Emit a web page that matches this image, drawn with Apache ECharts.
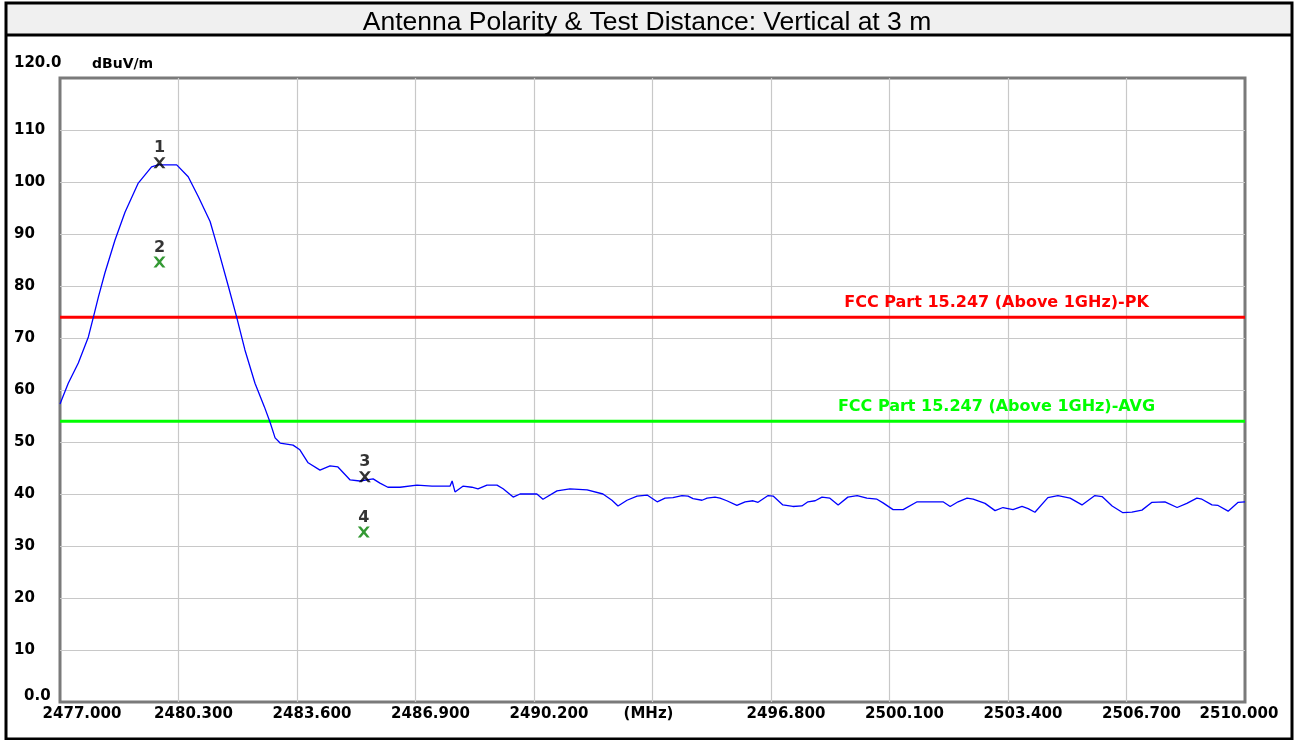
<!DOCTYPE html>
<html>
<head>
<meta charset="utf-8">
<script src="https://cdn.jsdelivr.net/npm/echarts@6/dist/echarts.min.js"></script>
<style>html,body{margin:0;padding:0;background:#fff;}#c{width:1294px;height:740px;}</style>
</head>
<body>
<div id="c"></div>
<script>
// ---- data ----
const chartTitle = 'Antenna Polarity & Test Distance: Vertical at 3 m';
const startFreq = 2477.0;   // MHz
const stopFreq = 2510.0;    // MHz
const xTickLabels = ['2477.000','2480.300','2483.600','2486.900','2490.200','(MHz)','2496.800','2500.100','2503.400','2506.700','2510.000'];
const yTickLabels = ['0.0','10','20','30','40','50','60','70','80','90','100','110','120.0'];
const yUnit = 'dBuV/m';

const traceFreq = [
 2477.00,2477.23,2477.51,2477.79,2477.93,2478.07,2478.25,2478.53,2478.81,2479.18,
 2479.55,2479.73,2480.25,2480.57,2480.85,2481.18,2481.41,2481.69,2481.92,2482.15,
 2482.43,2482.69,2482.85,2482.99,2483.13,2483.49,2483.68,2483.91,2484.24,2484.52,
 2484.74,2485.08,2485.35,2485.72,2485.91,2486.13,2486.47,2486.94,2487.36,2487.78,
 2487.86,2487.92,2488.00,2488.22,2488.47,2488.64,2488.89,2489.17,2489.34,2489.62,
 2489.81,2490.28,2490.45,2490.84,2491.20,2491.68,2492.12,2492.37,2492.54,2492.79,
 2493.07,2493.35,2493.63,2493.85,2494.07,2494.32,2494.49,2494.63,2494.88,2495.02,
 2495.24,2495.38,2495.57,2495.85,2496.08,2496.30,2496.44,2496.72,2496.86,2497.13,
 2497.41,2497.66,2497.83,2498.03,2498.22,2498.44,2498.67,2498.94,2499.20,2499.47,
 2499.75,2499.92,2500.20,2500.48,2500.87,2501.59,2501.79,2502.01,2502.26,2502.43,
 2502.76,2503.04,2503.26,2503.54,2503.79,2503.96,2504.15,2504.51,2504.79,2505.13,
 2505.46,2505.82,2506.02,2506.30,2506.60,2506.85,2507.13,2507.41,2507.77,2508.11,
 2508.38,2508.66,2508.80,2509.08,2509.25,2509.53,2509.81,2510.00
];
const traceLevel = [
 57.3,61.3,65.2,70.2,74.0,77.9,82.5,88.8,94.2,99.8,
 102.9,103.3,103.3,101.0,97.2,92.4,86.9,79.9,74.0,67.7,
 61.3,56.8,53.8,50.8,49.8,49.4,48.5,46.0,44.6,45.4,
 45.2,42.7,42.5,42.9,42.1,41.3,41.3,41.7,41.5,41.5,
 41.5,42.5,40.4,41.5,41.3,41.0,41.7,41.7,41.0,39.4,
 40.0,40.0,39.0,40.6,41.0,40.8,40.0,38.8,37.7,38.8,
 39.6,39.8,38.5,39.2,39.3,39.7,39.6,39.1,38.8,39.2,
 39.4,39.2,38.7,37.8,38.5,38.7,38.4,39.7,39.6,37.9,
 37.6,37.7,38.5,38.7,39.4,39.2,37.9,39.4,39.7,39.2,
 39.0,38.3,37.0,37.0,38.5,38.5,37.6,38.5,39.2,39.0,
 38.2,36.8,37.4,37.0,37.6,37.2,36.5,39.3,39.7,39.2,
 37.9,39.7,39.5,37.7,36.4,36.5,36.9,38.4,38.5,37.4,
 38.2,39.2,39.0,37.9,37.8,36.7,38.4,38.5
];

const pkLimit = 74.0;
const avgLimit = 54.0;
const pkLimitName = 'FCC Part 15.247 (Above 1GHz)-PK';
const avgLimitName = 'FCC Part 15.247 (Above 1GHz)-AVG';
const limitLabelFreq = 2503.08;

const peakMarkerFreq = [2479.77, 2485.49];
const peakMarkerLevel = [103.7, 43.3];
const peakMarkerLabel = ['1', '3'];
const avgMarkerFreq = [2479.77, 2485.46];
const avgMarkerLevel = [84.6, 32.7];
const avgMarkerLabel = ['2', '4'];

// ---- helpers: x axis runs in kHz offset from the start frequency ----
const toX = f => Math.round((f - startFreq) * 1000);
const spanX = toX(stopFreq);
const stepX = 3300;

const traceData = traceFreq.map((f, i) => [toX(f), traceLevel[i]]);
const mk = (fr, lv, lb) => fr.map((f, i) => ({ value: [toX(f), lv[i]], name: lb[i] }));

const BOLD = 'DejaVu Sans';
const xShape = 'path://M0,0L3,0L6,3.2L9,0L12,0L7.6,5L12,10L9,10L6,6.8L3,10L0,10L4.4,5Z';

const chart = echarts.init(document.getElementById('c'), null, { renderer: 'canvas' });
chart.setOption({
  animation: false,
  backgroundColor: '#ffffff',
  title: {
    text: chartTitle, left: 'center', top: 4,
    textStyle: { fontFamily: 'Liberation Sans', fontSize: 26.5, fontWeight: 'normal', color: '#000' }
  },
  graphic: [
    { type: 'rect', z: -10, shape: { x: 6, y: 3, width: 1286, height: 32 }, style: { fill: '#f0f0f0' } },
    { type: 'line', z: 10, shape: { x1: 6, y1: 35, x2: 1292, y2: 35 }, style: { stroke: '#000', lineWidth: 3 } },
    { type: 'rect', z: 10, shape: { x: 6, y: 3, width: 1286, height: 736 }, style: { fill: 'none', stroke: '#000', lineWidth: 3 } }
  ],
  grid: {
    left: 60, right: 49, top: 78, bottom: 38,
    show: true, borderColor: '#7a7a7a', borderWidth: 3
  },
  xAxis: {
    type: 'value', min: 0, max: spanX, interval: stepX,
    axisLine: { show: false }, axisTick: { show: false },
    splitLine: { show: true, showMinLine: false, showMaxLine: false, lineStyle: { color: '#c8c8c8', width: 1.2 } },
    axisLabel: {
      margin: 5,
      formatter: v => {
        const i = Math.round(v / stepX);
        const t = xTickLabels[i];
        if (i === 0) return '{f|' + t + '}';
        if (i === xTickLabels.length - 1) return '{l|' + t + '}';
        if (t === '(MHz)') return '{u|' + t + '}';
        return '{n|' + t + '}';
      },
      rich: {
        n: { fontFamily: BOLD, fontWeight: 'bold', fontSize: 15, color: '#000', padding: [0, 0, 0, 30] },
        f: { fontFamily: BOLD, fontWeight: 'bold', fontSize: 15, color: '#000', padding: [0, 0, 0, 44] },
        l: { fontFamily: BOLD, fontWeight: 'bold', fontSize: 15, color: '#000', padding: [0, 12, 0, 0] },
        u: { fontFamily: BOLD, fontWeight: 'bold', fontSize: 15, color: '#000', padding: [0, 8, 0, 0] }
      }
    }
  },
  yAxis: {
    type: 'value', min: 0, max: 120, interval: 10,
    name: yUnit, nameLocation: 'end', nameGap: 14,
    nameTextStyle: { fontFamily: BOLD, fontWeight: 'bold', fontSize: 14, color: '#000', align: 'left', verticalAlign: 'middle', padding: [0, 0, 0, 32] },
    axisLine: { show: false }, axisTick: { show: false },
    splitLine: { show: true, showMinLine: false, showMaxLine: false, lineStyle: { color: '#c8c8c8', width: 1.2 } },
    axisLabel: {
      align: 'left', margin: 46,
      formatter: v => {
        const i = Math.round(v / 10);
        const t = yTickLabels[i];
        if (i === yTickLabels.length - 1) return '{t|' + t + '}';
        if (i === 0) return '{b|' + t + '}';
        return '{n|' + t + '}';
      },
      rich: {
        n: { fontFamily: BOLD, fontWeight: 'bold', fontSize: 15, color: '#000' },
        t: { fontFamily: BOLD, fontWeight: 'bold', fontSize: 15, color: '#000', padding: [0, 0, 29, 0] },
        b: { fontFamily: BOLD, fontWeight: 'bold', fontSize: 15, color: '#000', padding: [0, 0, 12, 10] }
      }
    }
  },
  series: [
    {
      name: 'trace', type: 'line', data: traceData, showSymbol: false, symbol: 'none',
      lineStyle: { color: '#0000ff', width: 1.3 }, z: 3
    },
    {
      name: 'pk', type: 'line', data: [[0, pkLimit], [spanX, pkLimit]], showSymbol: false, symbol: 'none',
      lineStyle: { color: '#ff0000', width: 3 }, z: 2,
      markPoint: {
        symbol: 'circle', symbolSize: 0,
        data: [{ coord: [toX(limitLabelFreq), pkLimit] }],
        label: { show: true, position: 'top', distance: 6, formatter: pkLimitName,
          fontFamily: BOLD, fontWeight: 'bold', fontSize: 16, color: '#ff0000' }
      }
    },
    {
      name: 'avg', type: 'line', data: [[0, avgLimit], [spanX, avgLimit]], showSymbol: false, symbol: 'none',
      lineStyle: { color: '#00ff00', width: 3 }, z: 2,
      markPoint: {
        symbol: 'circle', symbolSize: 0,
        data: [{ coord: [toX(limitLabelFreq), avgLimit] }],
        label: { show: true, position: 'top', distance: 6, formatter: avgLimitName,
          fontFamily: BOLD, fontWeight: 'bold', fontSize: 16, color: '#00ff00' }
      }
    },
    {
      name: 'peakMarkers', type: 'scatter', data: mk(peakMarkerFreq, peakMarkerLevel, peakMarkerLabel),
      symbol: xShape, symbolSize: [12, 11], itemStyle: { color: '#000' }, z: 5,
      label: { show: true, position: 'top', distance: 1, formatter: p => p.name,
        fontFamily: BOLD, fontWeight: 'bold', fontSize: 16, color: '#000' }
    },
    {
      name: 'avgMarkers', type: 'scatter', data: mk(avgMarkerFreq, avgMarkerLevel, avgMarkerLabel),
      symbol: xShape, symbolSize: [12, 11], itemStyle: { color: '#008000' }, z: 5,
      label: { show: true, position: 'top', distance: 1, formatter: p => p.name,
        fontFamily: BOLD, fontWeight: 'bold', fontSize: 16, color: '#000' }
    }
  ]
});
</script>
</body>
</html>
